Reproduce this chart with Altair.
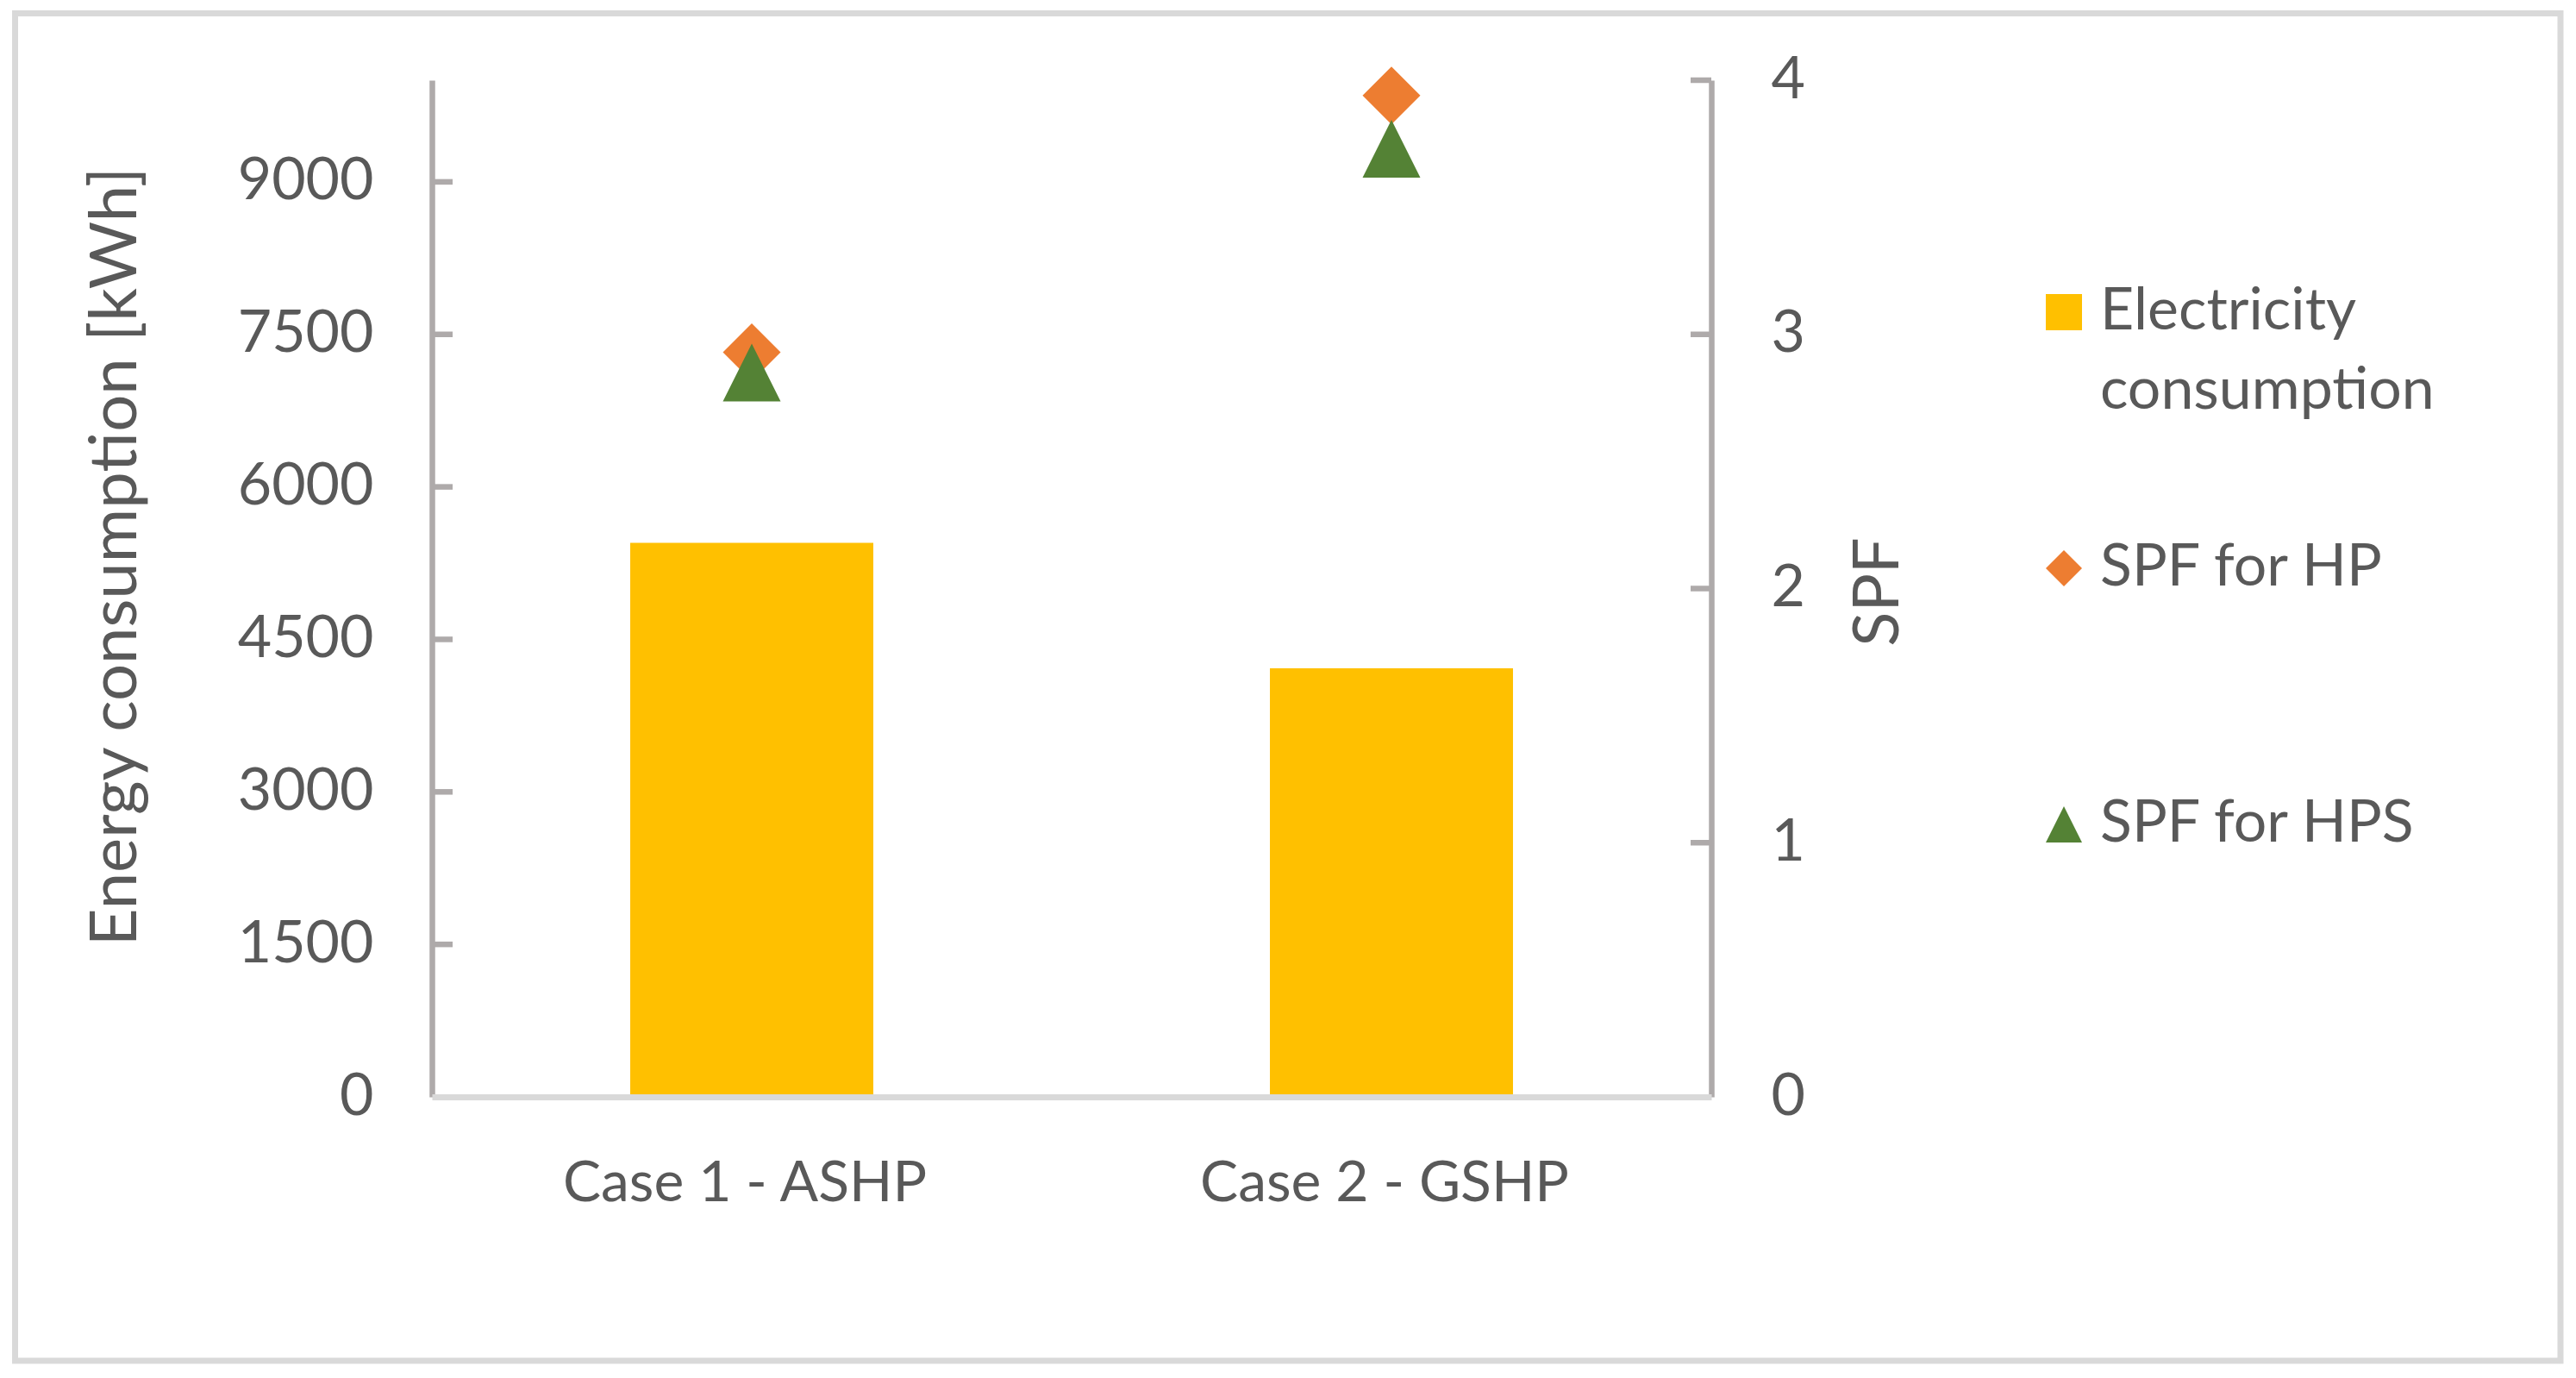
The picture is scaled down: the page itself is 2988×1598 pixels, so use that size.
import altair as alt
import pandas as pd

# ---- data ----
cases = ["Case 1 - ASHP", "Case 2 - GSHP"]
electricity_kwh = [5450, 4215]
spf_hp = [2.93, 3.94]
spf_hps = [2.85, 3.73]
series_names = ["Electricity consumption", "SPF for HP", "SPF for HPS"]
series_colors = ["#FFC000", "#ED7D31", "#548235"]
energy_ticks = [0, 1500, 3000, 4500, 6000, 7500, 9000]
spf_ticks = [0, 1, 2, 3, 4]

DIAMOND = "M0,-1L1,0L0,1L-1,0Z"
TRIANGLE = "M0,-1L1,1L-1,1Z"
series_shapes = ["square", DIAMOND, TRIANGLE]

TEXT = "#595959"
AXIS = "#AEAAAA"
LIGHT = "#D9D9D9"
FONT = "Lato"
FS = 68

W, H = 1484, 1179

bars_df = pd.DataFrame({"case": cases, "energy": electricity_kwh,
                        "series": [series_names[0]] * len(cases)})
points_df = pd.DataFrame({
    "case": cases + cases,
    "spf": spf_hp + spf_hps,
    "series": [series_names[1]] * len(cases) + [series_names[2]] * len(cases),
})
energy_tick_df = pd.DataFrame({"energy": energy_ticks})
spf_tick_df = pd.DataFrame({"spf": spf_ticks})
frame_df = pd.DataFrame({"frame": [0]})

x_scale = alt.Scale(type="band", domain=cases, paddingInner=0.62, paddingOuter=0.31)
y_left = alt.Scale(domain=[0, 10000], nice=False, zero=True)
y_right = alt.Scale(domain=[0, 4], nice=False, zero=True)
color_scale = alt.Scale(domain=series_names, range=series_colors)
shape_scale = alt.Scale(domain=series_names, range=series_shapes)

legend_def = alt.Legend(
    title="", orient="none", legendX=1859, legendY=235, padding=0,
    symbolSize=1764, symbolStrokeWidth=0, labelFont=FONT, labelFontSize=FS,
    labelColor=TEXT, labelOffset=8, labelLimit=800, rowPadding=137,
    gridAlign="all", labelBaseline="middle",
    labelExpr="datum.value == 'Electricity consumption' ? ['Electricity', 'consumption'] : datum.label",
)

x_axis = alt.Axis(
    title="", orient="bottom", ticks=False, tickSize=0, labelAngle=0,
    labelFont=FONT, labelFontSize=66, labelColor=TEXT, labelPadding=120,
    labelLimit=900, labelBaseline="alphabetic", labelOffset=-8,
    domainColor=LIGHT, domainWidth=7, zindex=2,
)

left_axis = alt.Axis(
    orient="left", values=energy_ticks, format="d", ticks=False, tickSize=0,
    labelFont=FONT, labelFontSize=FS, labelColor=TEXT, labelPadding=68,
    domainColor=AXIS, domainWidth=6.5,
    title="Energy consumption [kWh]", titleFont=FONT, titleFontSize=76,
    titleFontWeight="normal", titleColor=TEXT, titleAngle=270,
    titleX=-344, titleY=552, titleAlign="center", titleBaseline="alphabetic",
)

right_axis = alt.Axis(
    orient="right", values=spf_ticks, format="d", ticks=False, tickSize=0,
    labelFont=FONT, labelFontSize=FS, labelColor=TEXT, labelPadding=69,
    domainColor=AXIS, domainWidth=6.5,
    title="SPF", titleFont=FONT, titleFontSize=74,
    titleFontWeight="normal", titleColor=TEXT, titleAngle=270,
    titleX=216, titleY=593, titleAlign="center", titleBaseline="alphabetic",
)

frame = alt.Chart(frame_df).mark_rect(
    fillOpacity=0, stroke=LIGHT, strokeWidth=7
).encode(
    x=alt.value(-483.5), x2=alt.value(2469), y=alt.value(-77.5), y2=alt.value(1485)
)

bars = alt.Chart(bars_df).mark_bar().encode(
    x=alt.X("case:N", scale=x_scale, sort=cases, axis=x_axis),
    y=alt.Y("energy:Q", scale=y_left, axis=left_axis),
    color=alt.Color("series:N", scale=color_scale, legend=legend_def),
)

left_ticks = alt.Chart(energy_tick_df).mark_rule(
    color=AXIS, strokeWidth=6.5
).transform_filter("datum.energy > 0").encode(
    y=alt.Y("energy:Q", scale=y_left, axis=left_axis),
    x=alt.value(0), x2=alt.value(24),
)

points = alt.Chart(points_df).mark_point(
    filled=True, opacity=1, size=4489, strokeWidth=0
).encode(
    x=alt.X("case:N", scale=x_scale, sort=cases, axis=x_axis),
    y=alt.Y("spf:Q", scale=y_right, axis=right_axis),
    color=alt.Color("series:N", scale=color_scale, legend=legend_def),
    shape=alt.Shape("series:N", scale=shape_scale, legend=legend_def),
)

right_ticks = alt.Chart(spf_tick_df).mark_rule(
    color=AXIS, strokeWidth=6.5
).transform_filter("datum.spf > 0").encode(
    y=alt.Y("spf:Q", scale=y_right, axis=right_axis),
    x=alt.value(W - 24), x2=alt.value(W),
)

left = alt.layer(bars, left_ticks)
right = alt.layer(points, right_ticks)

chart = alt.layer(frame, left, right).resolve_scale(
    y="independent"
).properties(
    width=W, height=H,
    autosize=alt.AutoSizeParams(type="none"),
    padding={"left": 493, "top": 85, "right": 995, "bottom": 318},
).configure(
    font=FONT,
    style={"guide-label": {"lineHeight": 92}},
).configure_view(
    stroke="transparent"
).configure_axis(
    grid=False, labelFontWeight="normal"
)

chart.save("out.html", embed_options={"renderer": "svg", "actions": False})
